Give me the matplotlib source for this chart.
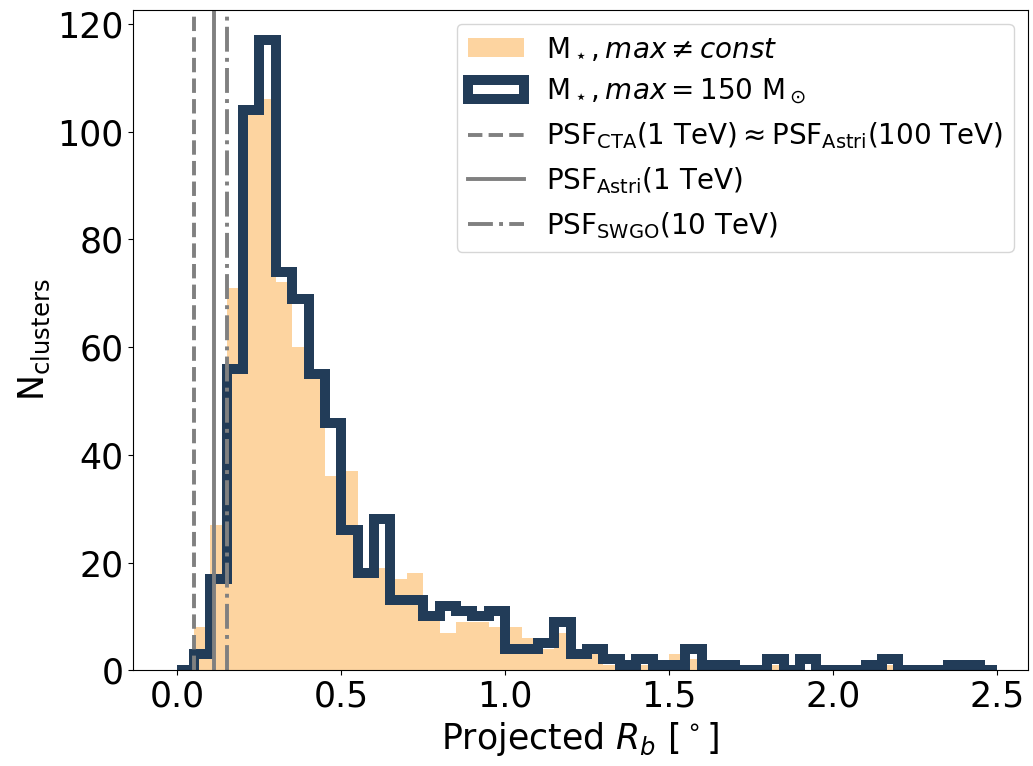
import matplotlib
matplotlib.use('Agg')
import matplotlib.pyplot as plt
import numpy as np

# histogram bin edges of the projected radius (deg)
bin_edges = np.round(np.arange(0, 2.5001, 0.05), 2)

# counts per bin, M*,max != const (filled)
counts_var = [0, 8, 27, 71, 104, 106, 72, 60, 55, 36,
              37, 18, 19, 17, 18, 10, 7, 9, 9, 8,
              8, 6, 4, 7, 3, 3, 1, 1, 1, 1,
              3, 2, 1, 0, 1, 0, 1, 0, 0, 0,
              1, 0, 0, 1, 1, 0, 0, 0, 0, 0]

# counts per bin, M*,max = 150 Msun (step)
counts_150 = [0, 3, 17, 56, 104, 117, 74, 69, 55, 46,
              26, 18, 28, 13, 13, 10, 12, 11, 10, 11,
              4, 4, 5, 9, 3, 4, 2, 1, 2, 1,
              1, 4, 1, 1, 0, 0, 2, 0, 2, 0,
              0, 0, 1, 2, 0, 0, 0, 1, 1, 0]

# PSF reference radii (deg)
psf_cta_1tev = 0.05
psf_astri_1tev = 0.11
psf_swgo_10tev = 0.15

labels = [r'M$_\star, max \neq const$',
          r'M$_\star, max = 150$ M$_\odot$',
          r'PSF$_{\rm CTA}$(1 TeV)$\approx$PSF$_{\rm Astri}$(100 TeV)',
          r'PSF$_{\rm Astri}$(1 TeV)',
          r'PSF$_{\rm SWGO}$(10 TeV)']

fig = plt.figure(figsize=(10.33, 7.66), dpi=100)
ax = fig.add_axes([0.129, 0.125, 0.866, 0.862])

centers = bin_edges[:-1] + 0.025
ax.hist(centers, bins=bin_edges, weights=counts_var, histtype='stepfilled',
        color='#fdd4a0', label=labels[0])
ax.hist(centers, bins=bin_edges, weights=counts_150, histtype='step',
        color='#223c58', linewidth=7.2, label=labels[1])
ax.axvline(psf_cta_1tev, color='gray', ls='--', lw=2.8, label=labels[2])
ax.axvline(psf_astri_1tev, color='gray', ls='-', lw=2.8, label=labels[3])
ax.axvline(psf_swgo_10tev, color='gray', ls='-.', lw=2.8, label=labels[4])

ax.set_xlim(-0.135, 2.595)
ax.set_ylim(0, 122.6)
ax.set_xticks([0.0, 0.5, 1.0, 1.5, 2.0, 2.5])
ax.set_yticks(np.arange(0, 121, 20))
ax.tick_params(labelsize=25)
ax.set_xlabel(r'Projected $R_b$ [$^\circ$]', fontsize=25)
ax.set_ylabel(r'N$_{\rm clusters}$', fontsize=25)
ax.legend(loc='upper right', fontsize=20)

fig.savefig('out.png', dpi=100)
